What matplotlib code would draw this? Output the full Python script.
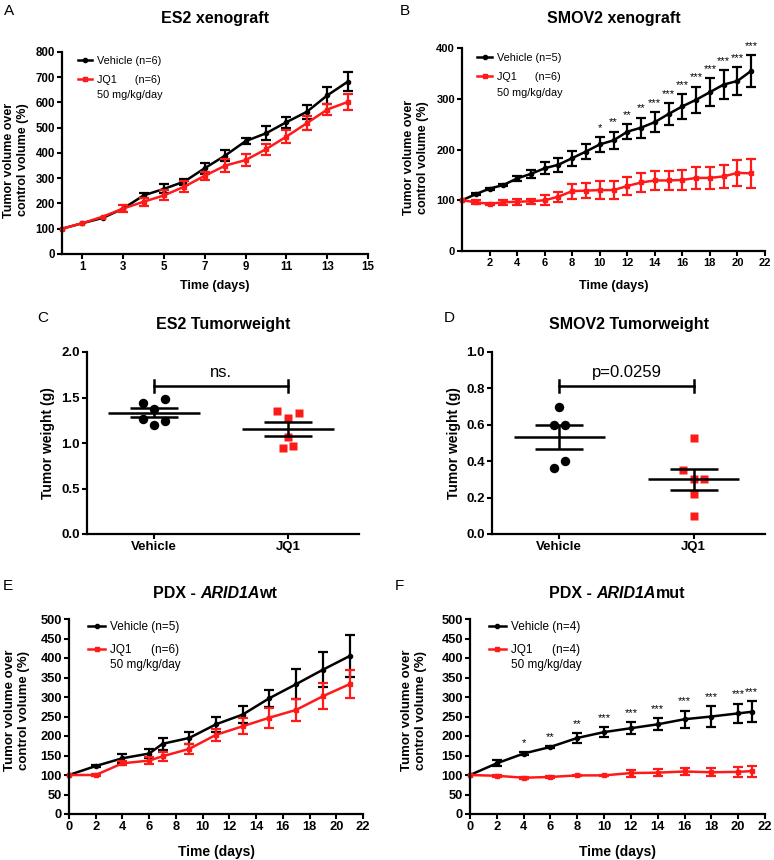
import numpy as np
import matplotlib
matplotlib.use('Agg')
import matplotlib.pyplot as plt
from matplotlib.lines import Line2D
from matplotlib.offsetbox import TextArea, HPacker, AnchoredOffsetbox

plt.rcParams['font.family'] = ['Liberation Sans', 'DejaVu Sans']
plt.rcParams['font.weight'] = 'bold'
plt.rcParams['axes.labelweight'] = 'bold'

RED = '#ff1a1a'

# ---- A: ES2 xenograft
es2_days = list(range(15))
es2_veh = [100, 122, 143, 180, 232, 258, 287, 340, 390, 447, 478, 522, 563, 628, 682]
es2_veh_err = [0, 0, 0, 0, 10, 18, 12, 22, 22, 12, 28, 22, 28, 35, 38]
es2_jq1 = [100, 122, 148, 180, 207, 232, 267, 310, 350, 372, 415, 465, 518, 572, 602]
es2_jq1_err = [0, 0, 0, 15, 15, 20, 22, 15, 25, 25, 22, 25, 28, 22, 30]

# ---- B: SMOV2 xenograft
smov_days = list(range(22))
smov_veh = [100, 112, 123, 130, 143, 152, 163, 170, 183, 196, 210, 218, 235, 243,
            254, 270, 285, 298, 313, 328, 335, 355]
smov_veh_err = [0, 2, 2, 2, 5, 8, 12, 14, 15, 14, 14, 17, 15, 20, 20, 22, 24, 26,
                27, 28, 27, 31]
smov_jq1 = [100, 96, 93, 96, 97, 98, 100, 107, 118, 119, 120, 120, 128, 135, 139,
            139, 140, 144, 144, 147, 154, 153]
smov_jq1_err = [0, 4, 2, 5, 6, 5, 10, 10, 15, 15, 17, 17, 17, 18, 19, 19, 20, 21,
                22, 23, 26, 28]
smov_stars = [''] * 10 + ['*', '**', '**', '**'] + ['***'] * 8

# ---- C / D: tumor weights
es2_w_veh = [1.445, 1.48, 1.37, 1.26, 1.20, 1.24]
es2_w_jq1 = [1.35, 1.33, 1.28, 1.07, 0.94, 0.97]
smov_w_veh = [0.70, 0.60, 0.60, 0.40, 0.36]
smov_w_jq1 = [0.53, 0.35, 0.30, 0.30, 0.22, 0.10]
groups = ['Vehicle', 'JQ1']

# ---- E: PDX ARID1A wt
wt_days = [0, 2, 4, 6, 7, 9, 11, 13, 15, 17, 19, 21]
wt_veh = [100, 123, 143, 155, 180, 195, 230, 255, 297, 333, 370, 405]
wt_veh_err = [0, 3, 12, 12, 15, 15, 20, 22, 22, 38, 45, 54]
wt_jq1 = [100, 100, 130, 137, 148, 167, 203, 225, 247, 267, 302, 333]
wt_jq1_err = [0, 2, 5, 8, 12, 12, 16, 20, 26, 29, 33, 35]

# ---- F: PDX ARID1A mut
mut_days = [0, 2, 4, 6, 8, 10, 12, 14, 16, 18, 20, 21]
mut_veh = [100, 130, 155, 172, 195, 210, 220, 230, 243, 250, 258, 262]
mut_veh_err = [0, 8, 3, 3, 12, 12, 15, 15, 22, 26, 25, 27]
mut_jq1 = [100, 98, 93, 95, 99, 99, 105, 106, 109, 107, 108, 110]
mut_jq1_err = [0, 2, 2, 2, 2, 2, 9, 9, 10, 10, 12, 14]
mut_stars = ['', '', '*', '**', '**', '***', '***', '***', '***', '***', '***', '***']

W, H = 774, 860
fig = plt.figure(figsize=(W / 100, H / 100), dpi=100)


def box(l, r, t, b):
    return [l / W, 1 - b / H, (r - l) / W, (b - t) / H]


def style(ax, fs):
    for s in ['top', 'right']:
        ax.spines[s].set_visible(False)
    for s in ['left', 'bottom']:
        ax.spines[s].set_linewidth(1.6)
    ax.tick_params(width=1.5, length=3.5, labelsize=fs, pad=1.5)


def growth(ax, days, veh, veh_err, jq, jq_err, n_veh, n_jq, stars=None):
    for y, e, c, m in [(veh, veh_err, 'black', 'o'), (jq, jq_err, RED, 's')]:
        e = np.array(e, float)
        e[e == 0] = np.nan
        eb = ax.errorbar(days, y, yerr=e, fmt='none', ecolor=c, elinewidth=1.6,
                         capsize=3.6, capthick=1.6)
        for a in eb.get_children():
            a.set_clip_on(False)
        ax.plot(days, y, color=c, marker=m, ms=3, lw=1.8, clip_on=False)
    if stars is not None:
        for d, m, e, s in zip(days, veh, veh_err, stars):
            if s:
                ax.annotate(s, (d, m + e), xytext=(0, 3), textcoords='offset points',
                            ha='center', va='bottom', fontsize=8, fontweight='normal')
    handles = [Line2D([], [], color='black', marker='o', ms=3, lw=1.8),
               Line2D([], [], color=RED, marker='s', ms=3, lw=1.8)]
    labels = ['Vehicle (n=%d)' % n_veh, 'JQ1      (n=%d)' % n_jq]
    return handles, labels


def legend(ax, h, l, x, y, fs, hl, ls, dose_x, dose_y):
    ax.legend(h, l, loc='upper left', bbox_to_anchor=(x, y), frameon=False,
              borderpad=0, borderaxespad=0, handlelength=hl, handletextpad=0.42,
              labelspacing=ls, prop={'size': fs, 'weight': 'normal'})
    ax.text(dose_x, dose_y, '50 mg/kg/day', transform=ax.transAxes, fontsize=fs,
            fontweight='normal', va='center')


def weight(ax, data, offsets):
    for i, (vals, offs) in enumerate(zip(data, offsets)):
        vals = np.array(vals)
        c, m, ms = ('black', 'o', 6.8) if i == 0 else (RED, 's', 5.4)
        ax.plot(i + np.array(offs), vals, ls='none', marker=m, color=c, ms=ms,
                mec='none', zorder=2)
        mean = vals.mean()
        sem = vals.std(ddof=1) / np.sqrt(len(vals))
        ax.hlines(mean, i - 0.34, i + 0.34, color='black', lw=1.8, zorder=3)
        ax.errorbar(i, mean, yerr=sem, fmt='none', ecolor='black', elinewidth=1.8,
                    capsize=17, capthick=1.8, zorder=3)
    ax.set_xlim(-0.5, 1.53)
    ax.set_xticks([0, 1])
    ax.set_xticklabels(groups)


def bracket(ax, y, d, txt):
    ax.plot([0, 1], [y, y], color='black', lw=1.8)
    ax.plot([0, 0], [y - d, y + d], color='black', lw=1.8)
    ax.plot([1, 1], [y - d, y + d], color='black', lw=1.8)
    ax.annotate(txt, (0.5, y), xytext=(0, 4), textcoords='offset points',
                ha='center', va='bottom', fontsize=12, fontweight='normal')


ylab_growth = 'Tumor volume over\ncontrol volume (%)'

# ---------- A
axA = fig.add_axes(box(62, 368, 52, 254))
style(axA, 8.3)
h, l = growth(axA, es2_days, es2_veh, es2_veh_err, es2_jq1, es2_jq1_err, 6, 6)
axA.set_xlim(0, 15)
axA.set_ylim(0, 800)
axA.set_xticks(range(1, 16, 2))
axA.set_yticks(range(0, 801, 100))
legend(axA, h, l, 0.052, 0.98, 7.8, 1.3, 0.85, 0.114, 0.785)
axA.set_ylabel(ylab_growth, fontsize=9)
axA.yaxis.set_label_coords(-0.108, 0.465)
axA.set_xlabel('Time (days)', fontsize=9)
axA.xaxis.set_label_coords(0.5, -0.13)

# ---------- B
axB = fig.add_axes(box(462, 765, 48, 251))
style(axB, 8)
h, l = growth(axB, smov_days, smov_veh, smov_veh_err, smov_jq1, smov_jq1_err, 5, 6,
              stars=smov_stars)
axB.set_xlim(0, 22)
axB.set_ylim(0, 400)
axB.set_xticks(range(2, 23, 2))
axB.set_yticks(range(0, 401, 100))
legend(axB, h, l, 0.05, 0.977, 7.8, 1.4, 0.85, 0.116, 0.78)
axB.set_ylabel(ylab_growth, fontsize=9)
axB.yaxis.set_label_coords(-0.109, 0.46)
axB.set_xlabel('Time (days)', fontsize=9)
axB.xaxis.set_label_coords(0.5, -0.145)

# ---------- C
axC = fig.add_axes(box(87, 359, 352, 534))
style(axC, 9.5)
weight(axC, [es2_w_veh, es2_w_jq1],
       [[-0.083, 0.083, 0, -0.083, 0, 0.083], [-0.08, 0.08, 0, 0, -0.04, 0.04]])
axC.set_ylim(0, 2.0)
axC.set_yticks(np.arange(0, 2.01, 0.5))
axC.yaxis.set_major_formatter('{x:.1f}')
bracket(axC, 1.63, 0.065, 'ns.')
axC.set_ylabel('Tumor weight (g)', fontsize=10)
axC.yaxis.set_label_coords(-0.118, 0.5)

# ---------- D
axD = fig.add_axes(box(492, 765, 352, 534))
style(axD, 9.5)
weight(axD, [smov_w_veh, smov_w_jq1],
       [[0, -0.04, 0.04, 0.04, -0.04], [0, -0.08, 0, 0.08, 0, 0]])
axD.set_ylim(0, 1.0)
axD.set_yticks(np.arange(0, 1.01, 0.2))
axD.yaxis.set_major_formatter('{x:.1f}')
bracket(axD, 0.814, 0.032, 'p=0.0259')
axD.set_ylabel('Tumor weight (g)', fontsize=10)
axD.yaxis.set_label_coords(-0.114, 0.5)

# ---------- E
axE = fig.add_axes(box(69, 363, 619, 814))
style(axE, 9.3)
h, l = growth(axE, wt_days, wt_veh, wt_veh_err, wt_jq1, wt_jq1_err, 5, 6)
axE.set_xlim(0, 22)
axE.set_ylim(0, 500)
axE.set_xticks(range(0, 23, 2))
axE.set_yticks(range(0, 501, 50))
legend(axE, h, l, 0.065, 0.99, 8.5, 1.45, 0.95, 0.139, 0.764)
axE.set_ylabel(ylab_growth, fontsize=9.5)
axE.yaxis.set_label_coords(-0.133, 0.53)
axE.set_xlabel('Time (days)', fontsize=10)
axE.xaxis.set_label_coords(0.5, -0.16)

# ---------- F
axF = fig.add_axes(box(470, 765, 619, 814))
style(axF, 9.3)
h, l = growth(axF, mut_days, mut_veh, mut_veh_err, mut_jq1, mut_jq1_err, 4, 4,
              stars=mut_stars)
axF.set_xlim(0, 22)
axF.set_ylim(0, 500)
axF.set_xticks(range(0, 23, 2))
axF.set_yticks(range(0, 501, 50))
legend(axF, h, l, 0.064, 0.99, 8.5, 1.45, 0.95, 0.139, 0.764)
axF.set_ylabel(ylab_growth, fontsize=9.5)
axF.yaxis.set_label_coords(-0.146, 0.53)
axF.set_xlabel('Time (days)', fontsize=10)
axF.xaxis.set_label_coords(0.5, -0.16)

# ---------- titles and panel letters
titles = [(['ES2 xenograft'], 215, 18), (['SMOV2 xenograft'], 614, 18),
          (['ES2 Tumorweight'], 223, 325), (['SMOV2 Tumorweight'], 629, 325),
          (['PDX - ', 'ARID1A', 'wt'], 215, 593),
          (['PDX - ', 'ARID1A', 'mut'], 617, 593)]
for parts, x, y in titles:
    areas = [TextArea(p, textprops=dict(fontsize=11.5, fontweight='bold',
                                        fontstyle='italic' if p == 'ARID1A' else 'normal'))
             for p in parts]
    pack = HPacker(children=areas, pad=0, sep=0, align='baseline')
    ab = AnchoredOffsetbox(loc='center', child=pack, pad=0, borderpad=0, frameon=False,
                           bbox_to_anchor=(x / W, 1 - y / H),
                           bbox_transform=fig.transFigure)
    fig.add_artist(ab)

letters = [('A', 4, 11), ('B', 400, 11), ('C', 37, 318), ('D', 444, 318),
           ('E', 3, 586), ('F', 395, 586)]
for t, x, y in letters:
    fig.text(x / W, 1 - y / H, t, ha='left', va='center', fontsize=11,
             fontweight='normal')

fig.savefig('out.png', dpi=100)
